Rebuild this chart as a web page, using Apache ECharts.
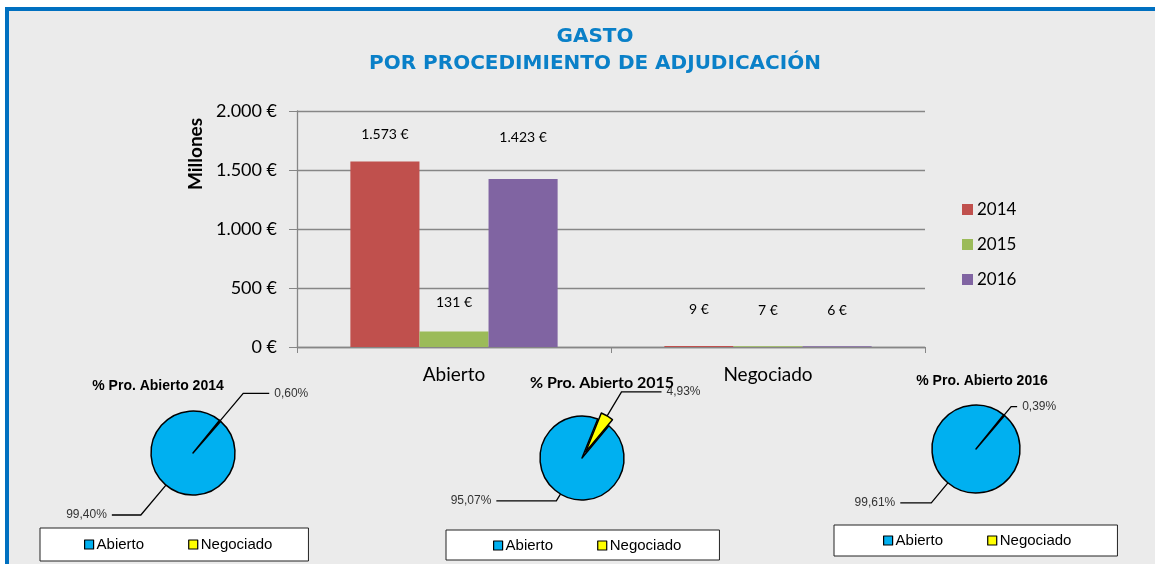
<!DOCTYPE html>
<html>
<head>
<meta charset="utf-8">
<script src="https://cdn.jsdelivr.net/npm/echarts@6/dist/echarts.min.js"></script>
<style>
  html, body { margin: 0; padding: 0; background: #fff; }
  #main { width: 1155px; height: 564px; }
</style>
</head>
<body>
<div id="main"></div>
<script>
// datos
var procedimientos = ['Abierto', 'Negociado'];
var anios = ['2014', '2015', '2016'];
var gasto2014 = [1573, 9];
var gasto2015 = [131, 7];
var gasto2016 = [1423, 6];
var yTicks = [0, 500, 1000, 1500, 2000];
var pie2014 = [0.60, 99.40];   // Negociado, Abierto
var pie2015 = [4.93, 95.07];
var pie2016 = [0.39, 99.61];

// separacion de las etiquetas y guias (estilo, no datos)
var labelGap = { '2014': [20, 29], '2015': [22, 29], '2016': [35, 29] };
var guias2014 = [[36, 26], [39, 29]];
var guias2015 = [[28, 40], [8, 60]];
var guias2016 = [[11, 6], [26, 31]];
var colores = ['#c0504d', '#9bbb59', '#8064a2'];

function miles(v) {
    return String(v).replace(/\B(?=(\d{3})+(?!\d))/g, '.') + ' €';
}
function pct(v) {
    return v.toFixed(2).replace('.', ',') + '%';
}

var myChart = echarts.init(document.getElementById('main'));

function barSerie(anio, valores, i) {
    return {
        name: anio,
        type: 'bar',
        barGap: 0,
        barCategoryGap: '34%',
        itemStyle: { color: colores[i] },
        data: valores.map(function (v, j) {
            return {
                value: v,
                label: { distance: labelGap[anio][j] }
            };
        }),
        label: {
            show: true,
            position: 'top',
            formatter: function (p) { return miles(p.value); },
            fontFamily: 'Lato',
            fontSize: 14,
            color: '#000'
        }
    };
}

function pieSerie(valores, guias, center, radius, explode) {
    return {
        type: 'pie',
        center: center,
        radius: radius,
        startAngle: explode ? 68 : 51,
        clockwise: true,
        avoidLabelOverlap: false,
        selectedMode: explode ? 'single' : false,
        selectedOffset: 7,
        itemStyle: { borderColor: '#000', borderWidth: 1.5 },
        label: {
            show: true,
            position: 'outside',
            formatter: function (p) { return pct(p.value); },
            fontFamily: 'Liberation Sans',
            fontSize: 12,
            color: '#333'
        },
        labelLine: {
            show: true,
            lineStyle: { color: '#000', width: 1.3 }
        },
        emphasis: { disabled: true },
        data: [
            { name: 'Negociado', value: valores[0], selected: !!explode, itemStyle: { color: '#ffff00' },
              labelLine: { length: guias[0][0], length2: guias[0][1] } },
            { name: 'Abierto', value: valores[1], itemStyle: { color: '#00b0f0' },
              labelLine: { length: guias[1][0], length2: guias[1][1] } }
        ]
    };
}

function pieLegend(left, top, padding) {
    return {
        data: ['Abierto', 'Negociado'],
        left: left,
        top: top,
        orient: 'horizontal',
        backgroundColor: '#fff',
        borderColor: '#222',
        borderWidth: 1,
        padding: padding,
        itemGap: 44,
        itemWidth: 9,
        itemHeight: 9,
        icon: 'rect',
        selectedMode: false,
        itemStyle: { borderColor: '#000', borderWidth: 1.2 },
        textStyle: { fontFamily: 'Liberation Sans', fontSize: 15, color: '#000', padding: [0, 0, 0, -2] }
    };
}

var option = {
    backgroundColor: '#fff',
    animation: false,
    graphic: [{
        type: 'rect',
        z: -10,
        shape: { x: 7, y: 9, width: 1200, height: 600 },
        style: { fill: '#ebebeb', stroke: '#0070c0', lineWidth: 4 }
    }],
    title: [{
        text: 'GASTO\nPOR PROCEDIMIENTO DE ADJUDICACIÓN',
        left: 590,
        textAlign: 'center',
        top: 18,
        textStyle: { fontFamily: 'DejaVu Sans', fontWeight: 'bold', fontSize: 20, lineHeight: 27, color: '#0a80c8' }
    }, {
        text: '% Pro. Abierto 2014',
        left: 153, textAlign: 'center', top: 374,
        textStyle: { fontFamily: 'Liberation Sans', fontWeight: 'bold', fontSize: 14, color: '#000' }
    }, {
        text: '% Pro. Abierto 2015',
        left: 597, textAlign: 'center', top: 370,
        textStyle: { fontFamily: 'Lato', fontWeight: 'bold', fontSize: 16, color: '#000' }
    }, {
        text: '% Pro. Abierto 2016',
        left: 977, textAlign: 'center', top: 369,
        textStyle: { fontFamily: 'Liberation Sans', fontWeight: 'bold', fontSize: 14, color: '#000' }
    }],
    legend: [{
        data: anios,
        orient: 'vertical',
        left: 957,
        top: 196,
        itemWidth: 11,
        itemHeight: 11,
        itemGap: 18,
        icon: 'rect',
        textStyle: { fontFamily: 'Lato', fontSize: 17, color: '#000', padding: [0, 0, 0, -1] }
    },
    pieLegend(40, 528, [9, 36, 9, 44]),
    pieLegend(446, 530, [8, 38, 7, 47]),
    pieLegend(834, 525, [8, 46, 8, 49])],
    grid: { left: 297, right: 230, top: 111, bottom: 217, containLabel: false },
    xAxis: {
        type: 'category',
        data: procedimientos,
        axisLine: { lineStyle: { color: '#868686', width: 1.3 } },
        axisTick: { show: true, length: 6, lineStyle: { color: '#868686' } },
        axisLabel: { fontFamily: 'Lato', fontSize: 19, color: '#000', margin: 18 }
    },
    yAxis: {
        type: 'value',
        min: 0,
        max: 2000,
        interval: 500,
        name: 'Millones',
        nameLocation: 'middle',
        nameRotate: 90,
        nameGap: 90,
        nameTextStyle: { fontFamily: 'Lato', fontWeight: 'bold', fontSize: 19, color: '#000', padding: [0, 0, 0, 150] },
        axisLine: { show: true, lineStyle: { color: '#868686', width: 1.3 } },
        axisTick: { show: true, length: 8, lineStyle: { color: '#868686' } },
        splitLine: { lineStyle: { color: '#868686', width: 1.3 } },
        axisLabel: {
            fontFamily: 'Lato', fontSize: 18, color: '#000', margin: 20,
            formatter: function (v) { return yTicks.indexOf(v) >= 0 ? miles(v) : ''; }
        }
    },
    series: [
        barSerie('2014', gasto2014, 0),
        barSerie('2015', gasto2015, 1),
        barSerie('2016', gasto2016, 2),
        pieSerie(pie2014, guias2014, [193, 453], 42, false),
        pieSerie(pie2015, guias2015, [582, 458], 42, true),
        pieSerie(pie2016, guias2016, [976, 449], 44, false)
    ]
};

myChart.setOption(option);
</script>
</body>
</html>
